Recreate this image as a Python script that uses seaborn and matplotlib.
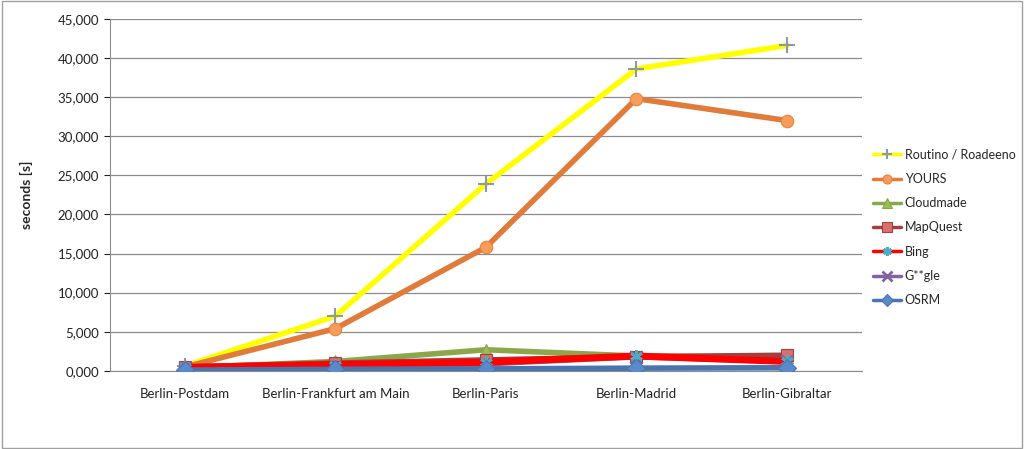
import matplotlib
matplotlib.use("Agg")
import matplotlib.pyplot as plt
import matplotlib.ticker as mticker
from matplotlib.patches import Rectangle
import seaborn as sns
import pandas as pd

# routes on the x axis
routes = ["Berlin-Postdam", "Berlin-Frankfurt am Main", "Berlin-Paris",
          "Berlin-Madrid", "Berlin-Gibraltar"]

# seconds per service
routino = [600, 7000, 23900, 38600, 41600]
yours = [500, 5400, 15800, 34800, 32000]
cloudmade = [400, 1200, 2700, 1900, 1800]
mapquest = [500, 1000, 1400, 1800, 2000]
bing = [450, 800, 1100, 1900, 1200]
google = [350, 600, 900, 1800, 1200]
osrm = [100, 200, 250, 350, 400]

services = ["Routino / Roadeeno", "YOURS", "Cloudmade", "MapQuest", "Bing", "G**gle", "OSRM"]
values = [routino, yours, cloudmade, mapquest, bing, google, osrm]

rows = []
for name, vals in zip(services, values):
    for i, v in enumerate(vals):
        rows.append({"pos": i, "route": routes[i], "service": name, "seconds": v})
df = pd.DataFrame(rows)

line_colors = {"Routino / Roadeeno": "#FFFF00", "YOURS": "#E07B39", "Cloudmade": "#8AA84B",
               "MapQuest": "#A0413E", "Bing": "#FF0000", "G**gle": "#7F63A2", "OSRM": "#4A74B0"}
marker_faces = {"Routino / Roadeeno": "#9BB0C8", "YOURS": "#F79C5A", "Cloudmade": "#9BBB59",
                "MapQuest": "#D9706E", "Bing": "#4BACC6", "G**gle": "#8064A2", "OSRM": "#5B8ACB"}
marker_shapes = {"Routino / Roadeeno": "P", "YOURS": "o", "Cloudmade": "^",
                 "MapQuest": "s", "Bing": "*", "G**gle": "X", "OSRM": "D"}
# drawing order: G**gle sits under Bing, OSRM on top
z_order = {"Routino / Roadeeno": 2, "YOURS": 3, "Cloudmade": 4, "MapQuest": 5,
           "Bing": 7, "G**gle": 6, "OSRM": 8}

sns.set_style("white")
plt.rcParams["font.family"] = ["Lato", "DejaVu Sans"]

fig = plt.figure(figsize=(10.24, 4.49), dpi=100)
ax = fig.add_axes([0.107, 0.174, 0.735, 0.784])

sns.lineplot(data=df, x="pos", y="seconds", hue="service", hue_order=services,
             palette=line_colors, linewidth=4, sort=False, ax=ax, legend=False)

for line, name in zip(ax.lines, services):
    m = marker_shapes[name]
    line.set_zorder(z_order[name])
    line.set_marker(m)
    line.set_markersize(9)
    line.set_markerfacecolor(marker_faces[name])
    line.set_markeredgecolor(marker_faces[name])
    if name == "Bing":
        line.set_linewidth(5)
    if m == "P":
        line.set_marker("+")
        line.set_markersize(11)
        line.set_markeredgewidth(1.5)
        line.set_markeredgecolor("#8A9AAA")
    elif m in ("*", "X"):
        line.set_marker("x" if m == "X" else (6, 2, 0))
        line.set_markeredgewidth(2)
    else:
        line.set_markeredgewidth(0.8)
        line.set_markeredgecolor(line_colors[name] if name != "YOURS" else "#E6843F")

ax.set_xlim(-0.5, len(routes) - 0.5)
ax.set_ylim(0, 45000)
ax.set_xticks(range(len(routes)))
ax.set_xticklabels(routes, fontsize=9.5, color="#222222")
ax.set_yticks(range(0, 45001, 5000))
ax.yaxis.set_major_formatter(mticker.FuncFormatter(
    lambda v, p: "0,000" if v == 0 else f"{v:,.0f}"))
ax.tick_params(axis="y", labelsize=9.5, colors="#222222", length=4, direction="out", left=True)
ax.tick_params(axis="x", length=0, pad=12)
ax.set_xlabel("")
ax.set_ylabel("seconds [s]", fontsize=10, fontweight="bold", labelpad=18)

ax.yaxis.grid(True, color="#8C8C8C", linewidth=0.9)
ax.set_axisbelow(True)
for s in ["top", "right"]:
    ax.spines[s].set_visible(False)
ax.spines["left"].set_color("#8C8C8C")
ax.spines["bottom"].set_color("#8C8C8C")

# minor ticks between categories on x axis
ax.set_xticks([i - 0.5 for i in range(len(routes) + 1)], minor=True)
ax.tick_params(axis="x", which="minor", length=4, color="#8C8C8C")

handles = []
for line, name in zip(ax.lines, services):
    h = plt.Line2D([], [], color=line.get_color(), linewidth=2.5,
                   marker=line.get_marker(), markersize=6.5,
                   markerfacecolor=line.get_markerfacecolor(),
                   markeredgecolor=line.get_markeredgecolor(),
                   markeredgewidth=line.get_markeredgewidth())
    handles.append(h)
fig.legend(handles, services, loc="upper left", bbox_to_anchor=(0.848, 0.68),
           frameon=False, fontsize=9, labelspacing=0.98, handlelength=2.2,
           handletextpad=0.3, borderaxespad=0)

fig.patches.append(Rectangle((0.002, 0.003), 0.996, 0.994, transform=fig.transFigure,
                             fill=False, edgecolor="#A0A0A0", linewidth=1))

fig.savefig("out.png", dpi=100)
